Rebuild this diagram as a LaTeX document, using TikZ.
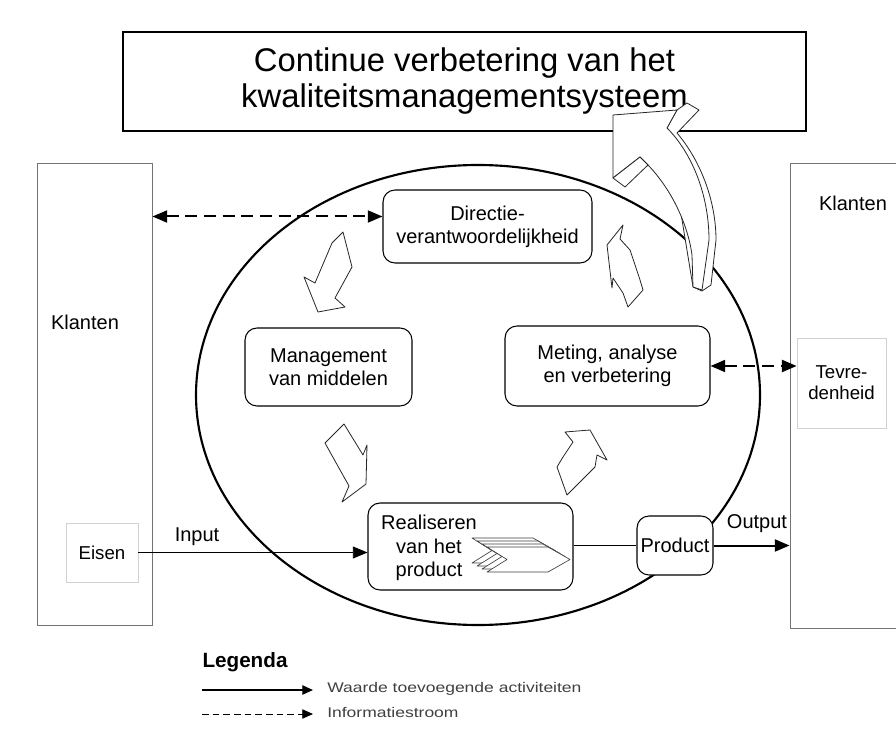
\documentclass[tikz,border=0pt]{standalone}
\usepackage{fontspec}
\setmainfont{Liberation Sans}
\newfontfamily\legfont[FakeStretch=1.25]{Liberation Sans}
\usetikzlibrary{arrows.meta,shapes.geometric,calc}

\begin{document}
\begin{tikzpicture}[x=0.75pt,y=-0.75pt,
  lbl/.style={font=\fontsize{15}{17.5}\selectfont, align=center, inner sep=0pt},
  smalllbl/.style={font=\fontsize{14}{15.5}\selectfont, align=center, inner sep=0pt},
  rbox/.style={draw=black, line width=0.8pt, rounded corners=9pt, fill=white, inner sep=0pt},
  graybox/.style={draw=black!55, line width=0.7pt, inner sep=0pt},
  lightbox/.style={draw=black!18, line width=0.6pt, inner sep=0pt},
  flow/.style={-{Triangle[length=11pt,width=9pt]}, line width=0.7pt},
  info/.style={{Triangle[length=11pt,width=9pt]}-{Triangle[length=11pt,width=9pt]},
               line width=1.5pt, dash pattern=on 9pt off 5pt},
  blockarr/.style={draw=black!85, line width=0.6pt, fill=white, line join=round},
  chev/.style={draw=black!75, line width=0.5pt, fill=white, line join=round},
  legtxt/.style={font=\legfont\fontsize{10.5}{12}\selectfont, text=black!75, anchor=west, inner sep=0pt},
]
\clip (0,0) rectangle (896,731);
\fill[white] (0,0) rectangle (896,731);

% customer columns
\node[graybox, minimum width=86.25pt, minimum height=346.5pt] (lk) at (94.5,394) {};
\node[graybox, minimum width=90pt, minimum height=348.75pt] (rk) at (850,395.5) {};
\node[lbl] (lktxt) at (85,322) {Klanten};
\node[lbl] (rktxt) at (853,203) {Klanten};
\node[lightbox, smalllbl, minimum width=54pt, minimum height=44.25pt] (eisen) at (102,552.5) {Eisen};
\node[lightbox, smalllbl, minimum width=66.75pt, minimum height=67.5pt] (tev) at (841.5,383) {Tevre-\\denheid};

% title box
\node[draw=black, line width=0.8pt, minimum width=512.25pt, minimum height=74.25pt,
      font=\fontsize{24.6}{27}\selectfont, align=center, inner sep=0pt] (title) at (464.5,81.5)
  {Continue verbetering van het\\kwaliteitsmanagementsysteem};

% process cycle
\node[draw, ellipse, line width=1.6pt, minimum width=423pt, minimum height=345pt, inner sep=0pt] (ell) at (478,395) {};

\node[rbox, lbl, minimum width=156.75pt, minimum height=54.75pt] (dir) at (487.5,226.5)
  {Directie-\\verantwoordelijkheid};
\node[rbox, lbl, minimum width=125.25pt, minimum height=58.5pt] (mgt) at (328.5,367)
  {Management\\van middelen};
\node[rbox, lbl, minimum width=153.75pt, minimum height=60pt] (met) at (607.5,366)
  {Meting, analyse\\en verbetering};
\node[rbox, minimum width=153.75pt, minimum height=65.25pt] (real) at (470.5,546.5) {};
\node[lbl] (realtxt) at (429,548) {Realiseren\\van het\\product};
\node[rbox, lbl, minimum width=57pt, minimum height=44.25pt] (prod) at (675,545.5) {Product};

% stacked process chevrons
\foreach \i in {0,...,3}{
  \draw[chev] ({472+5*\i},{538+3*\i}) -- ++(61,0) -- ++(22,12.5) -- ++(-22,12.5) -- ++(-61,0) -- ++(20,-12.5) -- cycle;
}

% cycle arrows
\draw[blockarr] (343,232) -- (352,267) -- (335,298) -- (345,307) -- (318,312) -- (304,277) -- (315,283) -- (332,243) -- cycle;
\draw[blockarr] (344,424) -- (363,455) -- (367,445) -- (366,484) -- (342,502) -- (349,486) -- (325,443) -- cycle;
\draw[blockarr] (565,432) -- (590,430) -- (607,460) -- (597,455) -- (595,467) -- (567,495) -- (557,467) -- (563,457) -- (573,442) -- cycle;
\draw[blockarr] (623,225) -- (620,239) -- (630,250) -- (640,280) -- (643,290) -- (628,307) -- (623,293) -- (613,278) -- (612,288) -- (607,245) -- cycle;

% continual improvement arrow
\draw[blockarr] (677,110) -- (687,103) -- (699,110) -- (677,133)
  .. controls (700,160) and (716,200) .. (716,240) -- (711,285) -- (702,291) -- (693,287) -- (667,128) -- cycle;
\draw[blockarr] (613,115) -- (677,110) -- (667,128)
  .. controls (692,153) and (709,195) .. (709,240) -- (702,290) -- (693,287) -- (692,255)
  .. controls (688,225) and (672,190) .. (648,165) -- (640,157) -- (613,178) -- cycle;
\draw[blockarr] (613,178) -- (625,187) -- (648,165) -- (640,157) -- cycle;

% flows
\draw[flow] (eisen.east) -- (eisen.east -| real.west);
\node[lbl] (inlbl) at (197,537) {Input};
\draw[line width=0.9pt] (prod.west -| real.east) -- (prod.west);
\draw[flow, line width=1.5pt] (prod.east) -- (prod.east -| rk.west);
\node[lbl] (outlbl) at (757,524) {Output};

% information flows
\coordinate (dirin) at ($(dir.west)+(0,-10)$);
\draw[info] (dirin -| lk.east) -- (dirin);
\draw[info] (met.east) -- (met.east -| tev.west);

% legend
\node[font=\bfseries\fontsize{15.5}{17}\selectfont, inner sep=0pt] (legtitle) at (245,662) {Legenda};
\coordinate (la) at (202,690);
\coordinate (lb) at (313,690);
\coordinate (lc) at (202,714);
\coordinate (ld) at (313,714);
\draw[-{Triangle[length=8pt,width=7pt]}, line width=0.9pt] (la) -- (lb);
\draw[-{Triangle[length=8pt,width=7pt]}, line width=0.6pt, dash pattern=on 5pt off 3pt] (lc) -- (ld);
\node[legtxt] (l1) at (327,689) {Waarde toevoegende activiteiten};
\node[legtxt] (l2) at (327,712) {Informatiestroom};
\end{tikzpicture}
\end{document}
